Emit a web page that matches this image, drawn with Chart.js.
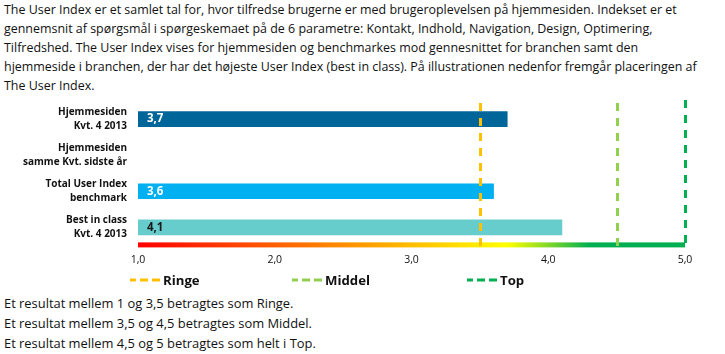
<!DOCTYPE html>
<html>
<head>
<meta charset="utf-8">
<script src="https://cdn.jsdelivr.net/npm/chart.js@4"></script>
<style>
  body { margin: 0; background: #fff; font-family: "Open Sans", sans-serif; color: #111; }
  .intro { position: absolute; left: 4px; top: 0; font-size: 12.45px; line-height: 19px; white-space: nowrap; }
  .outro { position: absolute; left: 4px; top: 293px; font-size: 12.9px; line-height: 20px; white-space: nowrap; }
  #wrap { position: absolute; left: 0; top: 96px; width: 725px; height: 178px; }
  #legend { position: absolute; top: 270px; left: 0; width: 725px; height: 20px; font-weight: bold; font-size: 13.2px; }
  #legend .item { position: absolute; top: 0; display: flex; align-items: center; height: 20px; }
  #legend svg { margin-right: 3px; }
</style>
</head>
<body>
<div class="intro">
The User Index er et samlet tal for, hvor tilfredse brugerne er med brugeroplevelsen på hjemmesiden. Indekset er et<br>
gennemsnit af spørgsmål i spørgeskemaet på de 6 parametre: Kontakt, Indhold, Navigation, Design, Optimering,<br>
Tilfredshed. The User Index vises for hjemmesiden og benchmarkes mod gennesnittet for branchen samt den<br>
hjemmeside i branchen, der har det højeste User Index (best in class). På illustrationen nedenfor fremgår placeringen af<br>
The User Index.
</div>
<div id="wrap"><canvas id="chart"></canvas></div>
<div id="legend"></div>
<div class="outro">
Et resultat mellem 1 og 3,5 betragtes som Ringe.<br>
Et resultat mellem 3,5 og 4,5 betragtes som Middel.<br>
Et resultat mellem 4,5 og 5 betragtes som helt i Top.
</div>
<script>
const categories = [
  ['Hjemmesiden', 'Kvt. 4 2013'],
  ['Hjemmesiden', 'samme Kvt. sidste år'],
  ['Total User Index', 'benchmark'],
  ['Best in class', 'Kvt. 4 2013']
];
const values = [3.7, null, 3.6, 4.1];
const barColors = ['#006699', '#006699', '#00B0F0', '#66CCCC'];
const labelColors = ['#ffffff', '#ffffff', '#ffffff', '#1a1a1a'];

const thresholdNames = ['Ringe', 'Middel', 'Top'];
const thresholdValues = [3.5, 4.5, 5.0];
const thresholdColors = ['#FFC000', '#92D050', '#00B050'];
const legendX = [130, 292, 467];

const gradientStops = [1.0, 3.7, 4.3];
const gradientColors = ['#FF0000', '#FFFF00', '#00B050'];

const fmt = v => v.toFixed(1).replace('.', ',');

// gradient scale bar + dashed threshold lines + value labels
const overlay = {
  id: 'overlay',
  afterDatasetsDraw(chart) {
    const { ctx, chartArea } = chart;
    const x = chart.scales.x;
    const x0 = x.getPixelForValue(1), x1 = x.getPixelForValue(5);
    const yb = chartArea.bottom;

    const g = ctx.createLinearGradient(x0, 0, x1, 0);
    gradientStops.forEach((s, i) => g.addColorStop((s - 1) / 4, gradientColors[i]));
    ctx.save();
    ctx.fillStyle = g;
    ctx.fillRect(x0, yb - 3, x1 - x0, 5);

    thresholdValues.forEach((v, i) => {
      const px = Math.round(x.getPixelForValue(v)) + 0.5;
      ctx.beginPath();
      ctx.setLineDash([8, 7]);
      ctx.lineDashOffset = i === 2 ? 0 : -3;
      ctx.strokeStyle = thresholdColors[i];
      ctx.lineWidth = 3;
      ctx.moveTo(px, chartArea.top - 1);
      ctx.lineTo(px, yb + 3);
      ctx.stroke();
    });
    ctx.setLineDash([]);

    const meta = chart.getDatasetMeta(0);
    ctx.font = 'bold 11.5px "Open Sans", sans-serif';
    ctx.textBaseline = 'middle';
    meta.data.forEach((bar, i) => {
      if (values[i] == null) return;
      ctx.fillStyle = labelColors[i];
      ctx.fillText(fmt(values[i]), x0 + 9, bar.y);
    });
    ctx.restore();
  }
};

new Chart(document.getElementById('chart'), {
  type: 'bar',
  data: {
    labels: categories,
    datasets: [{
      data: values,
      backgroundColor: barColors,
      barThickness: 15,
      borderWidth: 0
    }]
  },
  options: {
    indexAxis: 'y',
    responsive: true,
    maintainAspectRatio: false,
    animation: false,
    layout: { padding: { top: 5, right: 40, left: 0, bottom: 0 } },
    plugins: { legend: { display: false }, tooltip: { enabled: false } },
    scales: {
      x: {
        min: 1, max: 5,
        grid: { display: false, drawTicks: false },
        border: { display: false },
        ticks: {
          stepSize: 1,
          padding: 8,
          color: '#111',
          font: { family: 'Open Sans', size: 10.5 },
          callback: v => fmt(v)
        }
      },
      y: {
        grid: { display: false, drawTicks: false },
        border: { display: false },
        afterFit: s => { s.width = 138; s.paddingTop = 0; s.paddingBottom = 0; },
        ticks: {
          autoSkip: false,
          padding: 11,
          color: '#111',
          font: { family: 'Open Sans', size: 10, weight: 'bold', lineHeight: 1.45 }
        }
      }
    }
  },
  plugins: [overlay]
});

// legend
const legend = document.getElementById('legend');
thresholdNames.forEach((name, i) => {
  const item = document.createElement('div');
  item.className = 'item';
  item.style.left = legendX[i] + 'px';
  item.innerHTML = '<svg width="30" height="4"><line x1="30" y1="2" x2="0" y2="2" stroke="' +
    thresholdColors[i] + '" stroke-width="3" stroke-dasharray="8 4"/></svg>' + name;
  legend.appendChild(item);
});
</script>
</body>
</html>
